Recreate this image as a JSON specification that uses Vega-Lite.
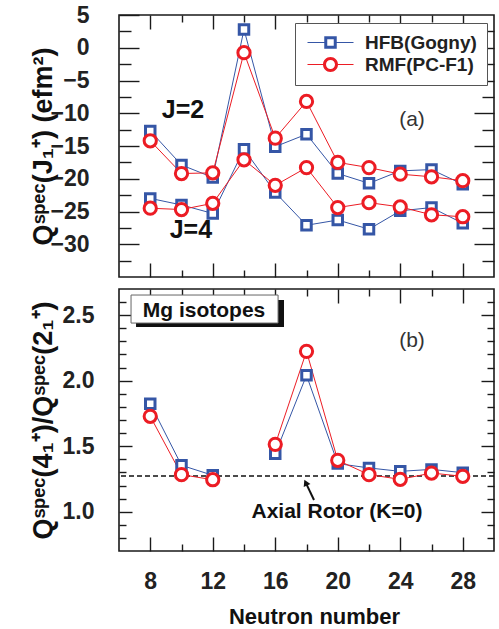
{
  "$schema": "https://vega.github.io/schema/vega-lite/v6.json",
  "background": "white",
  "padding": {"left": 28, "top": 3, "right": 6, "bottom": 3},
  "spacing": 8,
  "config": {
    "view": {"stroke": "#1a1a1a", "strokeWidth": 1.6},
    "axis": {"domain": false, "grid": false, "tickColor": "#1a1a1a", "tickWidth": 1.4, "labelFont": "Liberation Sans", "labelFontSize": 23, "labelFontWeight": "bold", "labelColor": "#222222", "titleFont": "Liberation Sans", "titleFontWeight": "bold", "titleColor": "#111111", "labelFlush": false, "labelOverlap": false},
    "text": {"font": "Liberation Sans"}
  },
  "datasets": {
    "top": [
      {"N": 8, "model": "HFB(Gogny)", "J": 2, "Q": -12.7},
      {"N": 10, "model": "HFB(Gogny)", "J": 2, "Q": -17.9},
      {"N": 12, "model": "HFB(Gogny)", "J": 2, "Q": -19.8},
      {"N": 14, "model": "HFB(Gogny)", "J": 2, "Q": 2.8},
      {"N": 16, "model": "HFB(Gogny)", "J": 2, "Q": -15.1},
      {"N": 18, "model": "HFB(Gogny)", "J": 2, "Q": -13.2},
      {"N": 20, "model": "HFB(Gogny)", "J": 2, "Q": -19.2},
      {"N": 22, "model": "HFB(Gogny)", "J": 2, "Q": -20.7},
      {"N": 24, "model": "HFB(Gogny)", "J": 2, "Q": -18.8},
      {"N": 26, "model": "HFB(Gogny)", "J": 2, "Q": -18.6},
      {"N": 28, "model": "HFB(Gogny)", "J": 2, "Q": -20.85},
      {"N": 8, "model": "HFB(Gogny)", "J": 4, "Q": -23.0},
      {"N": 10, "model": "HFB(Gogny)", "J": 4, "Q": -24.0},
      {"N": 12, "model": "HFB(Gogny)", "J": 4, "Q": -25.3},
      {"N": 14, "model": "HFB(Gogny)", "J": 4, "Q": -15.5},
      {"N": 16, "model": "HFB(Gogny)", "J": 4, "Q": -22.1},
      {"N": 18, "model": "HFB(Gogny)", "J": 4, "Q": -27.1},
      {"N": 20, "model": "HFB(Gogny)", "J": 4, "Q": -26.3},
      {"N": 22, "model": "HFB(Gogny)", "J": 4, "Q": -27.7},
      {"N": 24, "model": "HFB(Gogny)", "J": 4, "Q": -24.9},
      {"N": 26, "model": "HFB(Gogny)", "J": 4, "Q": -24.4},
      {"N": 28, "model": "HFB(Gogny)", "J": 4, "Q": -26.8},
      {"N": 8, "model": "RMF(PC-F1)", "J": 2, "Q": -14.2},
      {"N": 10, "model": "RMF(PC-F1)", "J": 2, "Q": -19.2},
      {"N": 12, "model": "RMF(PC-F1)", "J": 2, "Q": -19.1},
      {"N": 14, "model": "RMF(PC-F1)", "J": 2, "Q": -0.75},
      {"N": 16, "model": "RMF(PC-F1)", "J": 2, "Q": -13.8},
      {"N": 18, "model": "RMF(PC-F1)", "J": 2, "Q": -8.2},
      {"N": 20, "model": "RMF(PC-F1)", "J": 2, "Q": -17.5},
      {"N": 22, "model": "RMF(PC-F1)", "J": 2, "Q": -18.3},
      {"N": 24, "model": "RMF(PC-F1)", "J": 2, "Q": -19.3},
      {"N": 26, "model": "RMF(PC-F1)", "J": 2, "Q": -19.7},
      {"N": 28, "model": "RMF(PC-F1)", "J": 2, "Q": -20.3},
      {"N": 8, "model": "RMF(PC-F1)", "J": 4, "Q": -24.5},
      {"N": 10, "model": "RMF(PC-F1)", "J": 4, "Q": -24.7},
      {"N": 12, "model": "RMF(PC-F1)", "J": 4, "Q": -23.75},
      {"N": 14, "model": "RMF(PC-F1)", "J": 4, "Q": -17.1},
      {"N": 16, "model": "RMF(PC-F1)", "J": 4, "Q": -21.0},
      {"N": 18, "model": "RMF(PC-F1)", "J": 4, "Q": -18.3},
      {"N": 20, "model": "RMF(PC-F1)", "J": 4, "Q": -24.4},
      {"N": 22, "model": "RMF(PC-F1)", "J": 4, "Q": -23.65},
      {"N": 24, "model": "RMF(PC-F1)", "J": 4, "Q": -24.3},
      {"N": 26, "model": "RMF(PC-F1)", "J": 4, "Q": -25.5},
      {"N": 28, "model": "RMF(PC-F1)", "J": 4, "Q": -25.8}
    ],
    "bot": [
      {"N": 8, "model": "HFB(Gogny)", "seg": 1, "ratio": 1.824},
      {"N": 10, "model": "HFB(Gogny)", "seg": 1, "ratio": 1.354},
      {"N": 12, "model": "HFB(Gogny)", "seg": 1, "ratio": 1.278},
      {"N": 16, "model": "HFB(Gogny)", "seg": 2, "ratio": 1.443},
      {"N": 18, "model": "HFB(Gogny)", "seg": 2, "ratio": 2.041},
      {"N": 20, "model": "HFB(Gogny)", "seg": 2, "ratio": 1.367},
      {"N": 22, "model": "HFB(Gogny)", "seg": 2, "ratio": 1.334},
      {"N": 24, "model": "HFB(Gogny)", "seg": 2, "ratio": 1.308},
      {"N": 26, "model": "HFB(Gogny)", "seg": 2, "ratio": 1.323},
      {"N": 28, "model": "HFB(Gogny)", "seg": 2, "ratio": 1.298},
      {"N": 8, "model": "RMF(PC-F1)", "seg": 1, "ratio": 1.728},
      {"N": 10, "model": "RMF(PC-F1)", "seg": 1, "ratio": 1.283},
      {"N": 12, "model": "RMF(PC-F1)", "seg": 1, "ratio": 1.244},
      {"N": 16, "model": "RMF(PC-F1)", "seg": 2, "ratio": 1.514},
      {"N": 18, "model": "RMF(PC-F1)", "seg": 2, "ratio": 2.224},
      {"N": 20, "model": "RMF(PC-F1)", "seg": 2, "ratio": 1.392},
      {"N": 22, "model": "RMF(PC-F1)", "seg": 2, "ratio": 1.283},
      {"N": 24, "model": "RMF(PC-F1)", "seg": 2, "ratio": 1.247},
      {"N": 26, "model": "RMF(PC-F1)", "seg": 2, "ratio": 1.295},
      {"N": 28, "model": "RMF(PC-F1)", "seg": 2, "ratio": 1.270}
    ]
  },
  "vconcat": [
    {
      "width": 375,
      "height": 262,
      "data": {"name": "top"},
      "resolve": {"axis": {"x": "independent", "y": "independent"}},
      "layer": [
        {
          "mark": {"type": "line", "strokeWidth": 1},
          "encoding": {
            "x": {"field": "N", "type": "quantitative", "scale": {"domain": [6, 30], "nice": false, "zero": false},
              "axis": {"orient": "bottom", "values": [8, 12, 16, 20, 24, 28], "labels": false, "tickSize": -14, "title": null}},
            "y": {"field": "Q", "type": "quantitative", "scale": {"domain": [-35, 5], "nice": false, "zero": false},
              "axis": {"orient": "left", "values": [-30, -25, -20, -15, -10, -5, 0, 5], "tickSize": -20, "labelPadding": 50,
                "title": "Qˢᵖᵉᶜ(J₁⁺) (efm²)", "titleFontSize": 27, "titleX": -68, "titleY": 131, "titleAngle": -90, "titleAlign": "center", "titleBaseline": "alphabetic"}},
            "color": {"field": "model", "type": "nominal",
              "scale": {"domain": ["HFB(Gogny)", "RMF(PC-F1)"], "range": ["#3556a6", "#ec1c24"]},
              "legend": {"title": null, "orient": "none", "legendX": 176, "legendY": 8, "padding": 10, "rowPadding": 2,
                "fillColor": "white", "strokeColor": "#555555", "symbolSize": 100, "symbolOffset": 16, "labelOffset": 25,
                "labelFont": "Liberation Sans", "labelFontSize": 19, "labelFontWeight": "bold", "labelColor": "#222222", "symbolStrokeWidth": 0,
                "encode": {"symbols": {"update": {
                  "shape": {"signal": "datum.value === 'HFB(Gogny)' ? 'M-4.6,-0.1H-1.25V0.1H-4.6ZM1.25,-0.1H4.6V0.1H1.25ZM-1.25,-1.25H1.25V1.25H-1.25ZM-0.65,-0.65V0.65H0.65V-0.65Z' : 'M-4.6,-0.1H-1.5V0.1H-4.6ZM1.5,-0.1H4.6V0.1H1.5ZM-1.5,0A1.5,1.5,0,1,1,1.5,0A1.5,1.5,0,1,1,-1.5,0ZM-0.9,0A0.9,0.9,0,1,0,0.9,0A0.9,0.9,0,1,0,-0.9,0Z'"},
                  "fill": {"signal": "datum.value === 'HFB(Gogny)' ? '#3556a6' : '#ec1c24'"},
                  "stroke": {"value": "transparent"},
                  "strokeWidth": {"value": 0}
                }}}}},
            "detail": {"field": "J", "type": "nominal"}
          }
        },
        {
          "transform": [{"filter": "datum.model === 'HFB(Gogny)'"}],
          "mark": {"type": "point", "shape": "square", "size": 90, "strokeWidth": 3, "filled": true, "fill": "white", "stroke": "#3556a6", "opacity": 1},
          "encoding": {
            "x": {"field": "N", "type": "quantitative", "axis": {"orient": "bottom", "values": [10, 14, 18, 22, 26], "labels": false, "tickSize": -7, "title": null}},
            "y": {"field": "Q", "type": "quantitative", "axis": {"orient": "left", "values": [-32.5, -27.5, -22.5, -17.5, -12.5, -7.5, -2.5, 2.5], "labels": false, "tickSize": -12, "title": null}}
          }
        },
        {
          "transform": [{"filter": "datum.model === 'RMF(PC-F1)'"}],
          "mark": {"type": "point", "shape": "circle", "size": 150, "strokeWidth": 3, "filled": true, "fill": "white", "stroke": "#ec1c24", "opacity": 1},
          "encoding": {
            "x": {"field": "N", "type": "quantitative", "axis": {"orient": "top", "values": [8, 12, 16, 20, 24, 28], "labels": false, "tickSize": -14, "title": null}},
            "y": {"field": "Q", "type": "quantitative", "axis": {"orient": "right", "values": [-30, -25, -20, -15, -10, -5, 0], "labels": false, "tickSize": -20, "title": null}}
          }
        },
        {
          "data": {"values": [{}]},
          "mark": {"type": "text", "text": "J=2", "fontSize": 25, "fontWeight": "bold", "color": "#111111"},
          "encoding": {
            "x": {"datum": 10.1, "type": "quantitative", "axis": {"orient": "top", "values": [10, 14, 18, 22, 26], "labels": false, "tickSize": -7, "title": null}},
            "y": {"datum": -9.5, "type": "quantitative", "axis": {"orient": "right", "values": [-32.5, -27.5, -22.5, -17.5, -12.5, -7.5, -2.5, 2.5], "labels": false, "tickSize": -12, "title": null}}
          }
        },
        {
          "data": {"values": [{}]},
          "mark": {"type": "text", "text": "J=4", "fontSize": 25, "fontWeight": "bold", "color": "#111111"},
          "encoding": {
            "x": {"datum": 10.6, "type": "quantitative", "axis": null},
            "y": {"datum": -27.8, "type": "quantitative", "axis": null}
          }
        },
        {
          "data": {"values": [{}]},
          "mark": {"type": "text", "text": "(a)", "fontSize": 21, "color": "#333333"},
          "encoding": {
            "x": {"datum": 24.75, "type": "quantitative", "axis": null},
            "y": {"datum": -11.0, "type": "quantitative", "axis": null}
          }
        }
      ]
    },
    {
      "width": 375,
      "height": 262,
      "data": {"name": "bot"},
      "resolve": {"axis": {"x": "independent", "y": "independent"}},
      "layer": [
        {
          "data": {"values": [{}]},
          "mark": {"type": "rule", "strokeDash": [5, 3], "strokeWidth": 1.5, "color": "#111111"},
          "encoding": {
            "y": {"datum": 1.2727, "type": "quantitative", "scale": {"domain": [0.7, 2.7], "nice": false, "zero": false}, "axis": null}
          }
        },
        {
          "transform": [{"filter": "datum.model === 'HFB(Gogny)'"}],
          "mark": {"type": "line", "strokeWidth": 1, "color": "#3556a6"},
          "encoding": {
            "x": {"field": "N", "type": "quantitative", "scale": {"domain": [6, 30], "nice": false, "zero": false},
              "axis": {"orient": "bottom", "values": [8, 12, 16, 20, 24, 28], "tickSize": -14, "labelPadding": 33,
                "title": "Neutron number", "titleFontSize": 22, "titleX": 195, "titleY": 72, "titleAlign": "center", "titleBaseline": "alphabetic"}},
            "y": {"field": "ratio", "type": "quantitative",
              "axis": {"orient": "left", "values": [1.0, 1.5, 2.0, 2.5], "format": ".1f", "tickSize": -13, "labelPadding": 38,
                "title": "Qˢᵖᵉᶜ(4₁⁺)/Qˢᵖᵉᶜ(2₁⁺)", "titleFontSize": 27, "titleX": -68, "titleY": 131, "titleAngle": -90, "titleAlign": "center", "titleBaseline": "alphabetic"}},
            "detail": {"field": "seg", "type": "nominal"}
          }
        },
        {
          "transform": [{"filter": "datum.model === 'RMF(PC-F1)'"}],
          "mark": {"type": "line", "strokeWidth": 1, "color": "#ec1c24"},
          "encoding": {
            "x": {"field": "N", "type": "quantitative", "axis": {"orient": "bottom", "values": [10, 14, 18, 22, 26], "labels": false, "tickSize": -7, "title": null}},
            "y": {"field": "ratio", "type": "quantitative", "axis": {"orient": "left", "values": [0.8, 0.9, 1.1, 1.2, 1.3, 1.4, 1.6, 1.7, 1.8, 1.9, 2.1, 2.2, 2.3, 2.4, 2.6], "labels": false, "tickSize": -7, "title": null}},
            "detail": {"field": "seg", "type": "nominal"}
          }
        },
        {
          "transform": [{"filter": "datum.model === 'HFB(Gogny)'"}],
          "mark": {"type": "point", "shape": "square", "size": 90, "strokeWidth": 3, "filled": true, "fill": "white", "stroke": "#3556a6", "opacity": 1},
          "encoding": {
            "x": {"field": "N", "type": "quantitative", "axis": {"orient": "top", "values": [8, 12, 16, 20, 24, 28], "labels": false, "tickSize": -14, "title": null}},
            "y": {"field": "ratio", "type": "quantitative", "axis": {"orient": "right", "values": [1.0, 1.5, 2.0, 2.5], "labels": false, "tickSize": -13, "title": null}}
          }
        },
        {
          "transform": [{"filter": "datum.model === 'RMF(PC-F1)'"}],
          "mark": {"type": "point", "shape": "circle", "size": 150, "strokeWidth": 3, "filled": true, "fill": "white", "stroke": "#ec1c24", "opacity": 1},
          "encoding": {
            "x": {"field": "N", "type": "quantitative", "axis": {"orient": "top", "values": [10, 14, 18, 22, 26], "labels": false, "tickSize": -7, "title": null}},
            "y": {"field": "ratio", "type": "quantitative", "axis": {"orient": "right", "values": [0.8, 0.9, 1.1, 1.2, 1.3, 1.4, 1.6, 1.7, 1.8, 1.9, 2.1, 2.2, 2.3, 2.4, 2.6], "labels": false, "tickSize": -7, "title": null}}
          }
        },
        {
          "data": {"values": [{}]},
          "mark": {"type": "rect", "fill": "#111111"},
          "encoding": {
            "x": {"datum": 7.09, "type": "quantitative", "axis": null},
            "x2": {"datum": 16.56},
            "y": {"datum": 2.616, "type": "quantitative", "axis": null},
            "y2": {"datum": 2.41}
          }
        },
        {
          "data": {"values": [{}]},
          "mark": {"type": "rect", "fill": "white", "stroke": "#666666", "strokeWidth": 1},
          "encoding": {
            "x": {"datum": 6.77, "type": "quantitative", "axis": null},
            "x2": {"datum": 16.18},
            "y": {"datum": 2.654, "type": "quantitative", "axis": null},
            "y2": {"datum": 2.44}
          }
        },
        {
          "data": {"values": [{}]},
          "mark": {"type": "text", "text": "Mg isotopes", "fontSize": 21, "fontWeight": "bold", "color": "#111111"},
          "encoding": {
            "x": {"datum": 11.44, "type": "quantitative", "axis": null},
            "y": {"datum": 2.532, "type": "quantitative", "axis": null}
          }
        },
        {
          "data": {"values": [{}]},
          "mark": {"type": "text", "text": "(b)", "fontSize": 21, "color": "#333333"},
          "encoding": {
            "x": {"datum": 24.75, "type": "quantitative", "axis": null},
            "y": {"datum": 2.3, "type": "quantitative", "axis": null}
          }
        },
        {
          "data": {"values": [{}]},
          "mark": {"type": "rule", "strokeWidth": 2, "color": "#111111"},
          "encoding": {
            "x": {"datum": 18.48, "type": "quantitative", "axis": null},
            "y": {"datum": 1.089, "type": "quantitative", "axis": null},
            "x2": {"datum": 17.95},
            "y2": {"datum": 1.222}
          }
        },
        {
          "data": {"values": [{}]},
          "mark": {"type": "point", "shape": "triangle-up", "size": 55, "angle": 335, "filled": true, "color": "#111111", "opacity": 1},
          "encoding": {
            "x": {"datum": 17.95, "type": "quantitative", "axis": null},
            "y": {"datum": 1.222, "type": "quantitative", "axis": null}
          }
        },
        {
          "data": {"values": [{}]},
          "mark": {"type": "text", "text": "Axial Rotor (K=0)", "fontSize": 21, "fontWeight": "bold", "color": "#111111"},
          "encoding": {
            "x": {"datum": 19.95, "type": "quantitative", "axis": null},
            "y": {"datum": 0.998, "type": "quantitative", "axis": null}
          }
        }
      ]
    }
  ]
}
